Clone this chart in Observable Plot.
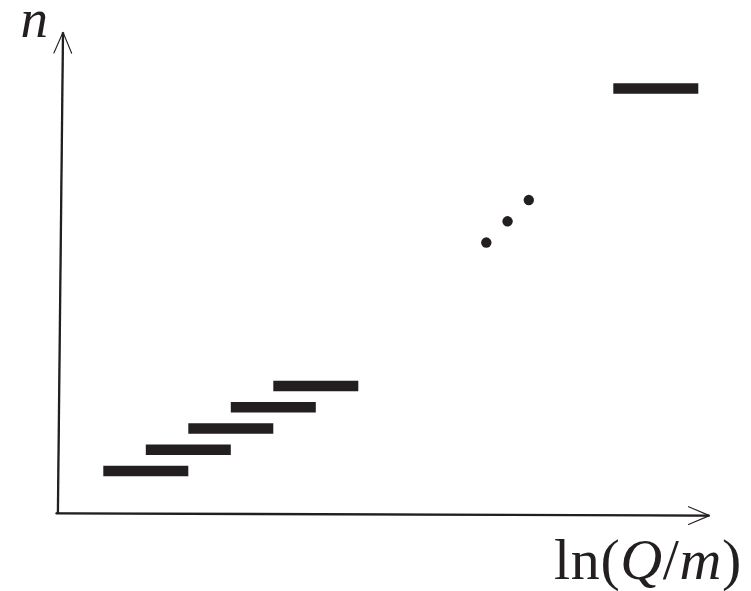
<!DOCTYPE html>
<html>
<head>
<meta charset="utf-8">
<script src="https://cdn.jsdelivr.net/npm/d3@7"></script>
<script src="https://cdn.jsdelivr.net/npm/@observablehq/plot@0.6"></script>
<style>
  html, body { margin: 0; padding: 0; background: #fff; }
  #chart { width: 751px; height: 591px; }
</style>
</head>
<body>
<div id="chart"></div>
<script>
// Levels (horizontal segments): n value, start and end along ln(Q/m)
const barLevels = [1, 2, 3, 4, 5, 19];
const barStarts = [1, 2, 3, 4, 5, 13];
const barEnds   = [3, 4, 5, 6, 7, 15];
// Ellipsis dots
const dotX = [10, 10.5, 11];
const dotY = [11.75, 12.75, 13.75];
// Axis arrows (start -> tip), in data units
const axisX1 = [-0.13, -0.08];
const axisY1 = [-0.99, -1.0];
const axisX2 = [15.25, 0.04];
const axisY2 = [-1.1, 21.65];
// Axis labels
const yLabel = "n";
const xLabel = "ln(Q/m)";

const ink = "#231f20";
const bars = barLevels.map((n, i) => ({n, x1: barStarts[i], x2: barEnds[i]}));
const dots = dotX.map((x, i) => ({x, y: dotY[i]}));
const axes = axisX1.map((x1, i) => ({x1, y1: axisY1[i], x2: axisX2[i], y2: axisY2[i]}));

const chart = Plot.plot({
  width: 751,
  height: 591,
  margin: 0,
  style: {background: "#fff"},
  x: {domain: [0, 15], range: [60.8, 698.3], axis: null},
  y: {domain: [0, 19], range: [491.75, 88], axis: null},
  marks: [
    Plot.arrow(axes, {x1: "x1", y1: "y1", x2: "x2", y2: "y2", stroke: ink, strokeWidth: 1.1, headLength: 31, headAngle: 46}),
    Plot.link(axes, {x1: "x1", y1: "y1", x2: "x2", y2: "y2", stroke: ink, strokeWidth: 2.3}),
    Plot.ruleY(bars, {y: "n", x1: "x1", x2: "x2", stroke: ink, strokeWidth: 10.5}),
    Plot.dot(dots, {x: "x", y: "y", r: 5.2, fill: ink, stroke: null}),
    Plot.text([yLabel], {text: d => d, frameAnchor: "top-left", dx: 20, dy: 36.5, textAnchor: "start", lineAnchor: "bottom",
      fontFamily: "Liberation Serif", fontStyle: "italic", fontSize: 55, fill: ink}),
    Plot.text([xLabel], {text: d => d, frameAnchor: "bottom-right", dx: -103.5, dy: -13, textAnchor: "middle", lineAnchor: "bottom",
      fontFamily: "Liberation Serif", fontSize: 58, fill: ink, className: "xlabel"})
  ]
});
document.getElementById("chart").appendChild(chart);
// Italicize the variables inside the x label
chart.querySelectorAll(".xlabel text").forEach(t => {
  t.textContent = "";
  t.setAttribute("letter-spacing", "0.6");
  const parts = [["ln(", null], ["Q", "italic"], ["/", null], ["m", "italic"], [")", null]];
  for (const [s, style] of parts) {
    const ts = document.createElementNS("http://www.w3.org/2000/svg", "tspan");
    ts.textContent = s;
    if (style) ts.setAttribute("font-style", style);
    t.appendChild(ts);
  }
});
</script>
</body>
</html>
